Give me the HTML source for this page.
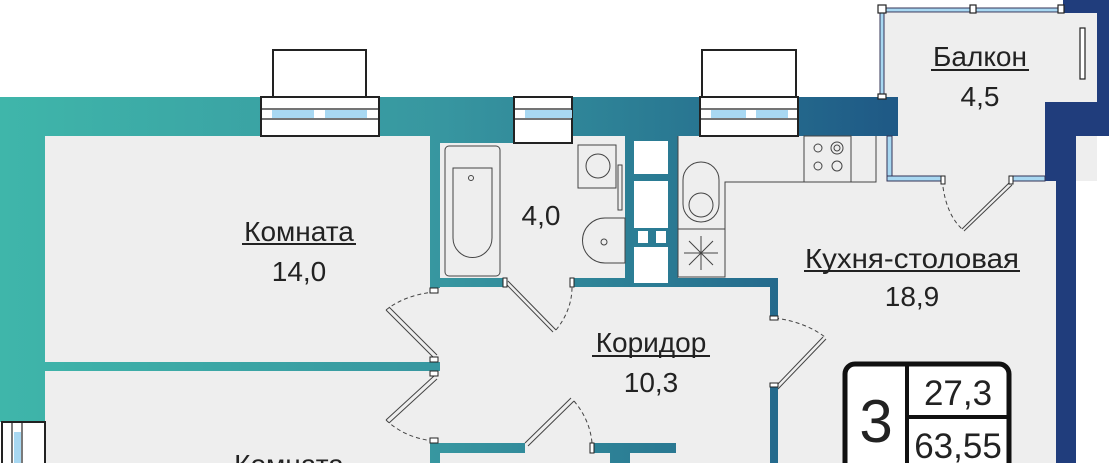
<!DOCTYPE html>
<html><head><meta charset="utf-8"><style>
html,body{margin:0;padding:0;background:#fff;width:1109px;height:463px;overflow:hidden}
svg{display:block}
text{font-family:"Liberation Sans","DejaVu Sans",sans-serif;fill:#222}
</style></head><body>
<svg width="1109" height="463" viewBox="0 0 1109 463" xmlns="http://www.w3.org/2000/svg">
<defs>
<linearGradient id="g" x1="0" y1="0" x2="1109" y2="0" gradientUnits="userSpaceOnUse">
<stop offset="0" stop-color="#3fb6aa"/>
<stop offset="0.4" stop-color="#3796a0"/>
<stop offset="0.6" stop-color="#2a7a93"/>
<stop offset="0.8" stop-color="#1f5a86"/>
<stop offset="1" stop-color="#1f3b7a"/>
</linearGradient>
</defs>
<!-- floors -->
<rect x="45" y="136" width="1011" height="327" fill="#eeeeee"/>
<rect x="884" y="13" width="213" height="168" fill="#eeeeee"/>
<!-- walls -->
<g fill="url(#g)">
<rect x="0" y="97" width="898" height="39"/>
<rect x="430" y="136" width="84" height="7"/>
<rect x="0" y="97" width="45" height="325"/>
<rect x="45" y="362" width="395" height="9"/>
<rect x="430" y="136" width="10" height="152"/>
<rect x="430" y="278" width="75" height="9"/>
<rect x="572" y="278" width="206" height="9"/>
<rect x="625" y="136" width="53" height="150"/>
<rect x="770" y="278" width="8" height="38"/>
<rect x="770" y="385" width="8" height="78"/>
<rect x="430" y="443" width="95" height="10"/>
<rect x="430" y="443" width="10" height="20"/>
<rect x="593" y="443" width="83" height="10"/>
<rect x="610" y="443" width="20" height="20"/>
</g>
<path d="M1063 0 H1109 V136 H1076 V463 H1056 V181 H1045 V102 H1097 V13 H1063 Z" fill="#203d7c"/>
<!-- shaft white boxes -->
<g fill="#fff">
<rect x="634" y="141" width="34" height="33"/>
<rect x="634" y="181" width="34" height="47"/>
<rect x="638" y="231" width="10" height="12"/>
<rect x="656" y="231" width="10" height="12"/>
<rect x="634" y="247" width="34" height="36"/>
</g>
<!-- windows -->
<g stroke="#222" stroke-width="2" fill="#fff">
<rect x="273" y="50" width="93" height="47"/>
<rect x="261" y="97" width="118" height="39"/>
<rect x="702" y="50" width="94" height="47"/>
<rect x="700" y="97" width="98" height="39"/>
<rect x="514" y="97" width="58" height="46"/>
<rect x="2" y="422" width="43" height="45"/>
</g>
<g fill="#a8d8f2">
<rect x="272" y="110" width="42" height="8"/><rect x="325" y="110" width="42" height="8"/>
<rect x="711" y="110" width="35" height="8"/><rect x="756" y="110" width="32" height="8"/>
<rect x="525" y="110" width="47" height="8"/>
<rect x="14" y="432" width="7" height="31"/>
</g>
<g fill="none" stroke="#222" stroke-width="1.2">
<line x1="261" y1="109" x2="379" y2="109"/><line x1="261" y1="119" x2="379" y2="119"/>
<line x1="700" y1="109" x2="798" y2="109"/><line x1="700" y1="119" x2="798" y2="119"/>
<line x1="514" y1="109" x2="572" y2="109"/><line x1="514" y1="119" x2="572" y2="119"/>
<line x1="12" y1="422" x2="12" y2="463"/><line x1="22" y1="422" x2="22" y2="463"/>
</g>
<!-- balcony glazing -->
<g fill="#a8d8f2" stroke="#335" stroke-width="1">
<rect x="882" y="8" width="181" height="4"/>
<rect x="880" y="10" width="4" height="87"/>
<rect x="887" y="136" width="5" height="45"/>
<rect x="887" y="176" width="56" height="5"/>
<rect x="1011" y="176" width="34" height="5"/>
</g>
<g fill="#fff" stroke="#222" stroke-width="1.2">
<rect x="878" y="5" width="8" height="8"/><rect x="970" y="5" width="6" height="8"/><rect x="1058" y="5" width="6" height="8"/>
<rect x="878" y="94" width="8" height="5"/>
<rect x="1080" y="28" width="5" height="51"/>
</g>
<!-- kitchen furniture -->
<g fill="none" stroke="#444" stroke-width="1">
<path d="M678 136 V277 H725 V182 H876 V136"/>
<rect x="804" y="136" width="47" height="46"/>
<circle cx="818" cy="148" r="4"/><circle cx="837" cy="148" r="6"/><circle cx="837" cy="148" r="3"/>
<circle cx="818" cy="166" r="4"/><circle cx="837" cy="166" r="5"/>
<rect x="683" y="162" width="36" height="60" rx="18"/>
<circle cx="701" cy="205" r="12"/>
<rect x="678" y="229" width="47" height="48"/>
<path d="M701 236 V270 M684 253 H718 M689 241 L713 265 M713 241 L689 265"/>
<rect x="578" y="145" width="38" height="43"/>
<circle cx="598" cy="166" r="12"/>
<rect x="618" y="165" width="4" height="45"/>
<path d="M625 218 V263 H605 A22 22 0 0 1 605 218 Z"/>
<circle cx="604" cy="242" r="3"/>
<rect x="445" y="146" width="55" height="130" rx="4"/>
<path d="M453 168 H492 V238 A19 19 0 0 1 453 238 Z"/>
<circle cx="471" cy="178" r="2.5"/>
</g>
<!-- doors -->
<g fill="none" stroke="#444" stroke-width="1">
<path d="M434 358 L386 310 M437 355 L389 307"/>
<path d="M386 310 Q405 295 434 292" stroke-dasharray="4 3"/>
<path d="M434 376 L386 420 M437 379 L389 423"/>
<path d="M386 420 Q405 438 434 441" stroke-dasharray="4 3"/>
<path d="M505 283 L553 332 M508 281 L556 330"/>
<path d="M556 330 Q572 310 572 287" stroke-dasharray="4 3"/>
<path d="M775 387 L823 337 M778 389 L826 339"/>
<path d="M775 318 Q805 322 825 337" stroke-dasharray="4 3"/>
<path d="M1010 182 L962 229 M1012 185 L964 231"/>
<path d="M943 187 Q947 215 962 229" stroke-dasharray="4 3"/>
<path d="M571 398 L525 443 M574 401 L528 446"/>
<path d="M574 401 Q590 420 592 443" stroke-dasharray="4 3"/>
</g>
<g fill="#fff" stroke="#222" stroke-width="1">
<rect x="430" y="288" width="8" height="5"/><rect x="430" y="357" width="8" height="5"/>
<rect x="430" y="371" width="8" height="5"/><rect x="430" y="438" width="8" height="5"/>
<rect x="503" y="278" width="4" height="9"/><rect x="570" y="278" width="4" height="9"/>
<rect x="770" y="316" width="8" height="4"/><rect x="770" y="383" width="8" height="4"/>
<rect x="1009" y="176" width="4" height="8"/><rect x="941" y="176" width="4" height="8"/>
<rect x="590" y="443" width="4" height="10"/>
</g>
<!-- labels -->
<g font-size="28" text-anchor="middle">
<text x="299" y="241">Комната</text><rect x="242" y="243" width="114" height="2" fill="#222"/>
<text x="299" y="281">14,0</text>
<text x="541" y="225">4,0</text>
<text x="980" y="66">Балкон</text><rect x="931" y="69" width="98" height="2" fill="#222"/>
<text x="980" y="106">4,5</text>
<text x="912" y="268" textLength="214" lengthAdjust="spacingAndGlyphs">Кухня-столовая</text><rect x="804" y="270" width="216" height="2" fill="#222"/>
<text x="912" y="306">18,9</text>
<text x="651" y="352">Коридор</text><rect x="592" y="355" width="118" height="2" fill="#222"/>
<text x="651" y="392">10,3</text>
<text x="289" y="474">Комната</text>
</g>
<!-- info box -->
<rect x="845" y="364" width="164" height="110" rx="10" fill="#fff" stroke="#111" stroke-width="5"/>
<line x1="907" y1="364" x2="907" y2="463" stroke="#111" stroke-width="4"/>
<line x1="907" y1="417" x2="1009" y2="417" stroke="#111" stroke-width="4"/>
<text x="876" y="442" font-size="60" text-anchor="middle" fill="#111">3</text>
<text x="958" y="405" font-size="35" text-anchor="middle" fill="#111">27,3</text>
<text x="958" y="458" font-size="35" text-anchor="middle" fill="#111">63,55</text>
</svg>
</body></html>
